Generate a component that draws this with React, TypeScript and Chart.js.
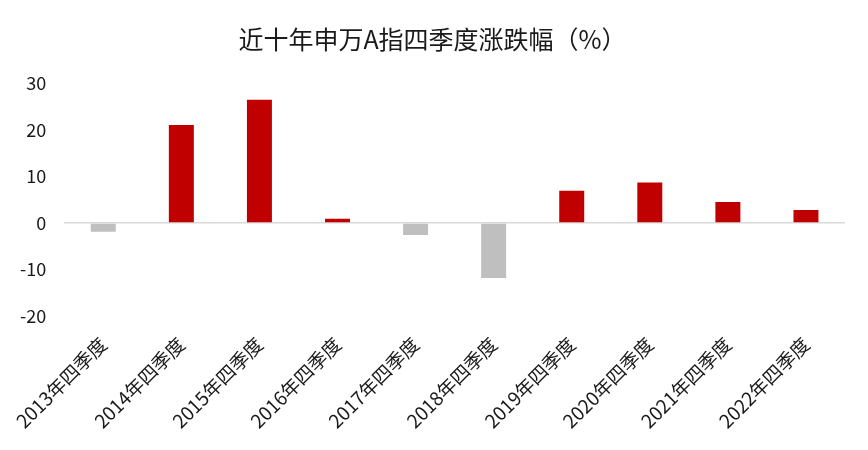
import React, { useEffect, useRef } from "react";
import { Chart, registerables } from "chart.js";

Chart.register(...registerables);

const categories = [
  "2013年四季度",
  "2014年四季度",
  "2015年四季度",
  "2016年四季度",
  "2017年四季度",
  "2018年四季度",
  "2019年四季度",
  "2020年四季度",
  "2021年四季度",
  "2022年四季度",
];
const changes = [-1.9, 21.0, 26.4, 0.9, -2.6, -11.8, 6.9, 8.7, 4.5, 2.8];
const yTicks = [-20, -10, 0, 10, 20, 30];
const titleText = "近十年申万A指四季度涨跌幅（%）";

const FONT = "'Noto Sans CJK SC', 'Noto Sans', sans-serif";

export default function App() {
  const ref = useRef<HTMLCanvasElement | null>(null);
  useEffect(() => {
    if (!ref.current) return;
    const chart = new Chart(ref.current, {
      type: "bar",
      data: {
        labels: categories,
        datasets: [
          {
            data: changes,
            backgroundColor: changes.map((v) => (v >= 0 ? "#C00000" : "#BFBFBF")),
            barPercentage: 0.32,
            categoryPercentage: 1,
          },
        ],
      },
      options: {
        animation: false,
        responsive: true,
        maintainAspectRatio: false,
        layout: { padding: { left: 20, right: 23, top: 0, bottom: 9 } },
        plugins: {
          legend: { display: false },
          tooltip: { enabled: false },
          title: {
            display: true,
            text: titleText,
            color: "#1a1a1a",
            font: { family: FONT, size: 25, weight: "normal" },
            padding: { top: 24, bottom: 29 },
          },
        },
        scales: {
          x: {
            grid: { display: false },
            border: { display: false },
            ticks: {
              color: "#1a1a1a",
              font: { family: FONT, size: 19 },
              minRotation: 45,
              maxRotation: 45,
              padding: 8.5,
            },
          },
          y: {
            min: yTicks[0],
            max: yTicks[yTicks.length - 1],
            afterBuildTicks: (axis: any) => {
              axis.ticks = yTicks.map((v) => ({ value: v }));
            },
            afterFit: (axis: any) => {
              axis.width = axis.width - 18;
            },
            grid: {
              drawTicks: false,
              color: (ctx: any) => (ctx.tick && ctx.tick.value === 0 ? "#D9D9D9" : "rgba(0,0,0,0)"),
              lineWidth: 1.5,
            },
            border: { display: false },
            ticks: {
              color: "#1a1a1a",
              font: { family: FONT, size: 18 },
              padding: 18,
            },
          },
        },
      },
    });
    return () => chart.destroy();
  }, []);
  return (
    <div style={{ position: "fixed", left: 0, top: 0, width: 868, height: 450, background: "#fff" }}>
      <canvas ref={ref} />
    </div>
  );
}
